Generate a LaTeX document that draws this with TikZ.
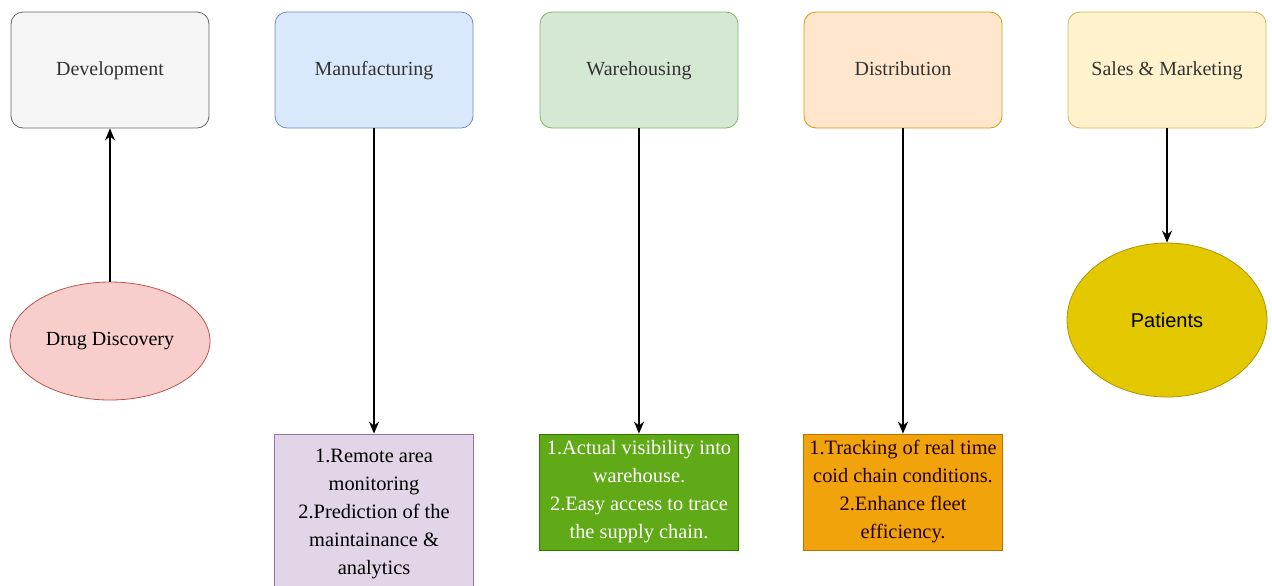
\documentclass[tikz,border=0pt]{standalone}
\usepackage{fontspec}
\setmainfont{Liberation Serif}
\newfontfamily\patfont{Liberation Sans}
\usepackage{xcolor}
\usetikzlibrary{arrows.meta, positioning, shapes.geometric}

\definecolor{devfill}{HTML}{F5F5F5}\definecolor{devline}{HTML}{666666}
\definecolor{manfill}{HTML}{DAE8FC}\definecolor{manline}{HTML}{6C8EBF}
\definecolor{warfill}{HTML}{D5E8D4}\definecolor{warline}{HTML}{82B366}
\definecolor{disfill}{HTML}{FFE6CC}\definecolor{disline}{HTML}{D79B00}
\definecolor{salfill}{HTML}{FFF2CC}\definecolor{salline}{HTML}{D6B656}
\definecolor{drugfill}{HTML}{F8CECC}\definecolor{drugline}{HTML}{B85450}
\definecolor{patfill}{HTML}{E3C800}\definecolor{patline}{HTML}{B09500}
\definecolor{notefill}{HTML}{E1D5E7}\definecolor{noteline}{HTML}{9673A6}
\definecolor{greenfill}{HTML}{60A917}\definecolor{greenline}{HTML}{2D7600}
\definecolor{amberfill}{HTML}{F0A30A}\definecolor{amberline}{HTML}{BD7000}

\begin{document}
\begin{tikzpicture}[
    x=0.5pt, y=-0.5pt,
    stage/.style={draw, rounded corners=6pt, minimum width=99pt, minimum height=58pt, text height=7pt, text depth=2pt, font=\fontsize{10}{14}\selectfont, text=black!80},
    note/.style={draw, minimum width=99.5pt, align=center, inner sep=1pt, font=\fontsize{10.2}{14}\selectfont},
    oval/.style={draw, ellipse, inner sep=0pt, minimum width=100pt, font=\fontsize{10}{14}\selectfont},
    flow/.style={-{Stealth[length=6pt, width=5pt]}, line width=0.75pt}
]
    \useasboundingbox (0,0) rectangle (1272,585);

    % top row
    \node[stage, fill=devfill, draw=devline] (dev) at (110,70) {Development};
    \node[stage, fill=manfill, draw=manline] (man) at (374,70) {Manufacturing};
    \node[stage, fill=warfill, draw=warline] (war) at (639,70) {Warehousing};
    \node[stage, fill=disfill, draw=disline] (dis) at (903,70) {Distribution};
    \node[stage, fill=salfill, draw=salline] (sal) at (1167,70) {Sales \& Marketing};

    % ovals
    \node[oval, fill=drugfill, draw=drugline, minimum height=59pt] (drug) at (110,341) {Drug Discovery};
    \node[oval, fill=patfill, draw=patline, minimum height=77pt, font=\patfont\fontsize{10}{14}\selectfont] (pat) at (1167,320) {Patients};

    % notes
    \node[note, fill=notefill, draw=noteline, minimum height=80pt] (mannote) at (374,514)
        {1.Remote area\\monitoring\\2.Prediction of the\\maintainance \&\\analytics};
    \node[note, fill=greenfill, draw=greenline, minimum height=58pt, text=white] (warnote) at (639,492)
        {1.Actual visibility into\\warehouse.\\2.Easy access to trace\\the supply chain.};
    \node[note, fill=amberfill, draw=amberline, minimum height=58pt, text=black!85!red] (disnote) at (903,492)
        {1.Tracking of real time\\coid chain conditions.\\2.Enhance fleet\\efficiency.};

    % arrows
    \draw[flow] (drug) -- (dev);
    \draw[flow] (man) -- (mannote);
    \draw[flow] (war) -- (warnote);
    \draw[flow] (dis) -- (disnote);
    \draw[flow] (sal) -- (pat);
\end{tikzpicture}
\end{document}
